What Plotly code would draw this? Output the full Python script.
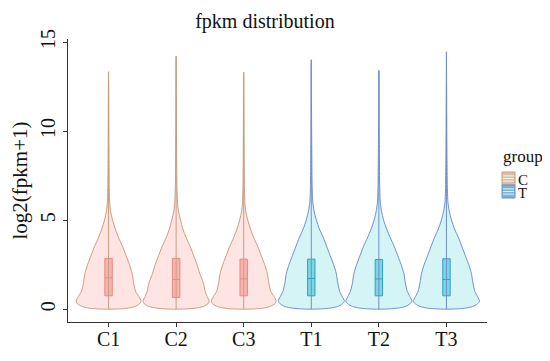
import plotly.graph_objects as go

# ---- data ----
samples = ["C1", "C2", "C3", "T1", "T2", "T3"]
groups = ["C", "C", "C", "T", "T", "T"]
group_names = ["C", "T"]
q1 = [0.75, 0.66, 0.75, 0.75, 0.75, 0.75]
median = [1.76, 1.67, 1.70, 1.72, 1.70, 1.67]
q3 = [2.85, 2.85, 2.81, 2.81, 2.79, 2.83]
max_val = [13.33, 14.2, 13.3, 14.0, 13.4, 14.45]

# density profile (half-width, in category units) at these levels
levels = [0, 0.02, 0.06, 0.15, 0.3, 0.45, 0.7, 1.0, 1.5, 2.0, 2.5, 3.0,
          3.5, 4.0, 4.5, 5.0, 5.5, 6.0, 7.0, 8.5, 10.0, 12.0]
dens_C1 = [0, 0.18, 0.29, 0.39, 0.46, 0.48, 0.45, 0.40, 0.37, 0.35, 0.31, 0.26,
           0.21, 0.15, 0.10, 0.06, 0.03, 0.017, 0.010, 0.007, 0.005, 0.003]
dens_C2 = [0, 0.18, 0.29, 0.40, 0.47, 0.49, 0.46, 0.43, 0.40, 0.35, 0.31, 0.26,
           0.21, 0.15, 0.10, 0.065, 0.035, 0.02, 0.011, 0.007, 0.005, 0.003]
dens_C3 = [0, 0.18, 0.29, 0.39, 0.46, 0.48, 0.45, 0.40, 0.37, 0.35, 0.31, 0.26,
           0.21, 0.15, 0.10, 0.06, 0.03, 0.017, 0.010, 0.007, 0.005, 0.003]
dens_T1 = [0, 0.17, 0.28, 0.39, 0.46, 0.49, 0.46, 0.42, 0.39, 0.37, 0.33, 0.28,
           0.23, 0.18, 0.12, 0.075, 0.042, 0.022, 0.012, 0.008, 0.005, 0.003]
dens_T2 = [0, 0.17, 0.28, 0.39, 0.46, 0.49, 0.46, 0.42, 0.39, 0.37, 0.33, 0.28,
           0.23, 0.17, 0.115, 0.07, 0.04, 0.021, 0.012, 0.008, 0.005, 0.003]
dens_T3 = [0, 0.17, 0.28, 0.39, 0.46, 0.49, 0.46, 0.42, 0.39, 0.37, 0.33, 0.28,
           0.23, 0.18, 0.12, 0.075, 0.042, 0.022, 0.012, 0.008, 0.005, 0.003]
densities = [dens_C1, dens_C2, dens_C3, dens_T1, dens_T2, dens_T3]

y_ticks = [0, 5, 10, 15]

# ---- styles ----
FONT = "Liberation Serif, Times New Roman, serif"
violin_line = {"C": "#C99D80", "T": "#6F8FCB"}
violin_fill = {"C": "rgba(248,118,109,0.2)", "T": "rgba(0,191,196,0.17)"}
box_fill = {"C": "rgba(240,110,105,0.42)", "T": "rgba(0,170,200,0.42)"}
box_line = {"C": "#E08F88", "T": "#3C9CC2"}
key_fill = {"C": "#DDBFA6", "T": "#79B6D6"}

fig = go.Figure()

for i, (s, g) in enumerate(zip(samples, groups)):
    lv = levels + [max_val[i]]
    dv = densities[i] + [0]
    xs = [i + d for d in dv] + [i - d for d in reversed(dv)]
    ys = lv + list(reversed(lv))
    fig.add_trace(go.Scatter(
        x=xs, y=ys, mode="lines", fill="toself",
        fillcolor=violin_fill[g],
        line=dict(color=violin_line[g], width=1, shape="spline", smoothing=0.6),
        showlegend=False, hoverinfo="skip", name=s))
    fig.add_trace(go.Scatter(
        x=[i, i], y=[0, max_val[i]], mode="lines",
        line=dict(color=violin_line[g], width=1),
        showlegend=False, hoverinfo="skip"))

for i, (s, g) in enumerate(zip(samples, groups)):
    fig.add_trace(go.Box(
        x=[i], q1=[q1[i]], median=[median[i]], q3=[q3[i]],
        lowerfence=[q1[i]], upperfence=[q3[i]],
        width=0.11, whiskerwidth=0,
        fillcolor=box_fill[g], line=dict(color=box_line[g], width=1),
        name=g, showlegend=False, hoverinfo="skip"))

# ---- geometry (page body has an 8px margin, so the figure is offset) ----
OFF = 8
W, H = 550 - OFF, 361 - OFF
ML, MR, MT, MB = 60, 63, 31, 39
PW, PH = W - ML - MR, H - MT - MB

def px(x_page):
    return (x_page - OFF - ML) / PW

def py(y_page):
    return (H - MB - (y_page - OFF)) / PH

annotations = [dict(text="group", x=px(501), y=py(156), xref="paper", yref="paper",
                    xanchor="left", yanchor="middle", showarrow=False,
                    font=dict(family=FONT, size=17, color="#111"))]
shapes = []
key_top = 172
key_h = 13
for k, g in enumerate(group_names):
    y0 = key_top + k * key_h
    y1 = y0 + key_h
    shapes.append(dict(type="rect", xref="paper", yref="paper",
                       x0=px(502), x1=px(515), y0=py(y1), y1=py(y0),
                       fillcolor=key_fill[g], line=dict(color=violin_line[g], width=1)))
    for f in (0.3, 0.5, 0.7):
        yy = y0 + f * key_h
        shapes.append(dict(type="line", xref="paper", yref="paper",
                           x0=px(503), x1=px(514), y0=py(yy), y1=py(yy),
                           line=dict(color="rgba(255,255,255,0.8)", width=1)))
    annotations.append(dict(text=g, x=px(517), y=py((y0 + y1) / 2 + 1), xref="paper",
                            yref="paper", xanchor="left", yanchor="middle",
                            showarrow=False, height=12, borderpad=0,
                            font=dict(family=FONT, size=15, color="#111")))

fig.update_layout(
    width=W, height=H,
    margin=dict(l=ML, r=MR, t=MT, b=MB, autoexpand=False),
    paper_bgcolor="white", plot_bgcolor="white",
    font=dict(family=FONT, color="#111", size=17),
    title=dict(text="fpkm distribution", x=0.47, xref="paper",
               y=1 - (21 - OFF) / H, yref="container",
               xanchor="center", yanchor="middle",
               font=dict(family=FONT, size=20, color="#111")),
    boxmode="overlay",
    showlegend=False,
    annotations=annotations,
    shapes=shapes,
)
fig.update_xaxes(range=[-0.6, 5.6], tickmode="array",
                 tickvals=list(range(len(samples))), ticktext=samples,
                 showline=True, linecolor="#333", linewidth=1,
                 ticks="outside", ticklen=4, tickcolor="#333",
                 showgrid=False, zeroline=False, automargin=False,
                 ticklabelstandoff=-5,
                 tickfont=dict(size=20, family=FONT, color="#111"))
fig.update_yaxes(range=[-0.72, 15.17], tickmode="array", tickvals=y_ticks,
                 ticktext=[str(v) for v in y_ticks], tickangle=-90,
                 showline=True, linecolor="#333", linewidth=1,
                 ticks="outside", ticklen=4, tickcolor="#333",
                 showgrid=False, zeroline=False, automargin=False,
                 ticklabelstandoff=0,
                 tickfont=dict(size=20, family=FONT, color="#111"),
                 title=dict(text="log2(fpkm+1)", standoff=4,
                            font=dict(size=21, family=FONT, color="#111")))

fig.write_html("out.html")
